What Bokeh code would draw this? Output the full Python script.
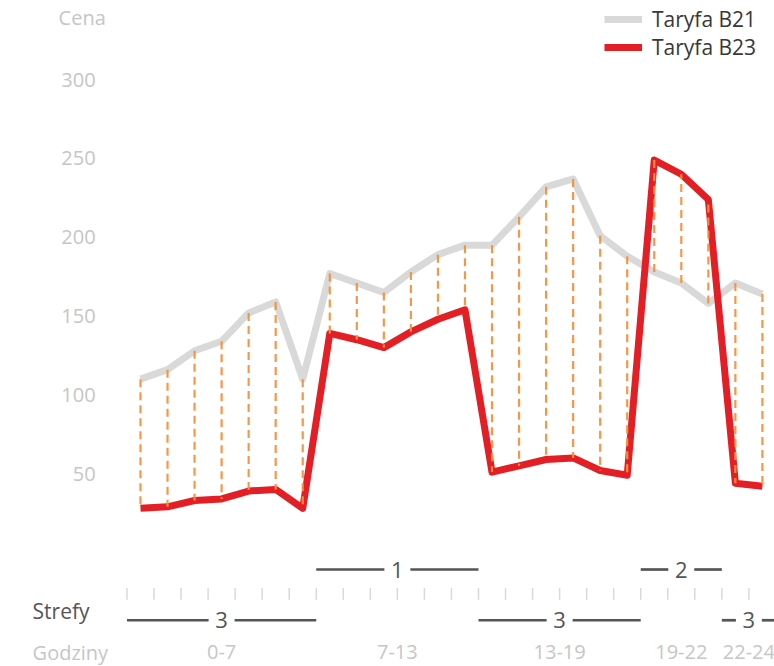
from bokeh.plotting import figure
from bokeh.models import Range1d, Legend, LegendItem
from bokeh.core.properties import value
from bokeh.embed import file_html
from bokeh.resources import INLINE

# ---- data ----
hours = list(range(24))
b21 = [110, 116, 128, 134, 152, 159, 110, 177, 171, 165, 178, 189,
       195, 195, 213, 232, 237, 201, 188, 178, 171, 158, 171, 164]
b23 = [28, 29, 33, 34, 39, 40, 28, 139, 135, 130, 140, 148,
       154, 51, 55, 59, 60, 52, 49, 249, 240, 224, 44, 42]
y_ticks = [50, 100, 150, 200, 250, 300]
y_tick_labels = ["50", "100", "150", "200", "250", "300"]
zone_start = [0, 7, 13, 19, 22]
zone_end = [7, 13, 19, 22, 24]
zone_name = ["3", "1", "3", "2", "3"]
zone_hours = ["0-7", "7-13", "13-19", "19-22", "22-24"]
series_names = ["Taryfa B21", "Taryfa B23"]
axis_title = "Cena"
row_titles = ["Strefy", "Godziny"]

FONT = "Open Sans"
LIGHT = "#c6c6c6"
DARK = "#555555"

p = figure(width=774, height=666, output_backend="svg", toolbar_location=None,
           x_range=Range1d(-5.177, 23.447), y_range=Range1d(-72.34, 350.25),
           min_border=0, min_border_left=0, min_border_right=0,
           min_border_top=0, min_border_bottom=0)
p.outline_line_color = None
p.xgrid.visible = False
p.ygrid.visible = False
p.xaxis.visible = False
p.yaxis.visible = False

# y "axis" labels placed through the y scale
label_x = -1.66
p.text(x=[label_x] * len(y_ticks), y=y_ticks, text=y_tick_labels,
       text_align="right", text_baseline="middle", text_font=value(FONT),
       text_font_size="20px", text_color=LIGHT)
p.text(x=[-3.03], y=[339.5], text=[axis_title], text_align="left",
       text_baseline="middle", text_font=value(FONT), text_font_size="20px",
       text_color=LIGHT)

# lines
r21 = p.line(hours, b21, line_color="#d9d9d9", line_width=7, line_join="round")
r23 = p.line(hours, b23, line_color="#e31e24", line_width=7, line_join="round")
# dashed connectors
p.segment(x0=hours, y0=b21, x1=hours, y1=b23, line_color="#f5913e",
          line_width=2.2, line_dash="8 5", line_alpha=0.95)

# hour-boundary ticks
bounds = [h - 0.5 for h in range(25)]
p.segment(x0=bounds, y0=[-22.5] * len(bounds), x1=bounds, y1=[-30.0] * len(bounds),
          line_color="#d9d9d9", line_width=1.5)

# zones
upper_y, lower_y = -10.8, -43.0
gap = 0.48
sx0, sx1, sy, cx, cy = [], [], [], [], []
for s, e, n in zip(zone_start, zone_end, zone_name):
    yv = lower_y if n == "3" else upper_y
    c = (s + e) / 2 - 0.5
    sx0 += [s - 0.5, c + gap]
    sx1 += [c - gap, e - 0.5]
    sy += [yv, yv]
    cx.append(c)
    cy.append(yv)
p.segment(x0=sx0, y0=sy, x1=sx1, y1=sy, line_color=DARK, line_width=2.7)
p.text(x=cx, y=cy, text=zone_name, text_align="center", text_baseline="middle",
       text_font=value(FONT), text_font_size="22px", text_color=DARK)

# hour labels
hours_row_y = -63.3
hx = [(s + e) / 2 - 0.5 for s, e in zip(zone_start, zone_end)]
p.text(x=hx, y=[hours_row_y] * len(hx), text=zone_hours, text_align="center",
       text_baseline="middle", text_font=value(FONT), text_font_size="20px",
       text_color=LIGHT)

# row titles
p.text(x=[-3.99], y=[-37.4], text=[row_titles[0]], text_baseline="middle",
       text_font=value(FONT), text_font_size="21px", text_color=DARK)
p.text(x=[-3.99], y=[hours_row_y], text=[row_titles[1]], text_baseline="middle",
       text_font=value(FONT), text_font_size="20px", text_color=LIGHT)

legend = Legend(items=[LegendItem(label=series_names[0], renderers=[r21]),
                       LegendItem(label=series_names[1], renderers=[r23])],
                location=(604, 605), padding=0, margin=0, spacing=0,
                glyph_width=38, glyph_height=20, label_height=20, label_standoff=10,
                label_text_font=FONT, label_text_font_size="21px",
                label_text_color="#383838", border_line_color=None,
                background_fill_alpha=0)
p.add_layout(legend)

open("out.html", "w").write(file_html(p, INLINE))
